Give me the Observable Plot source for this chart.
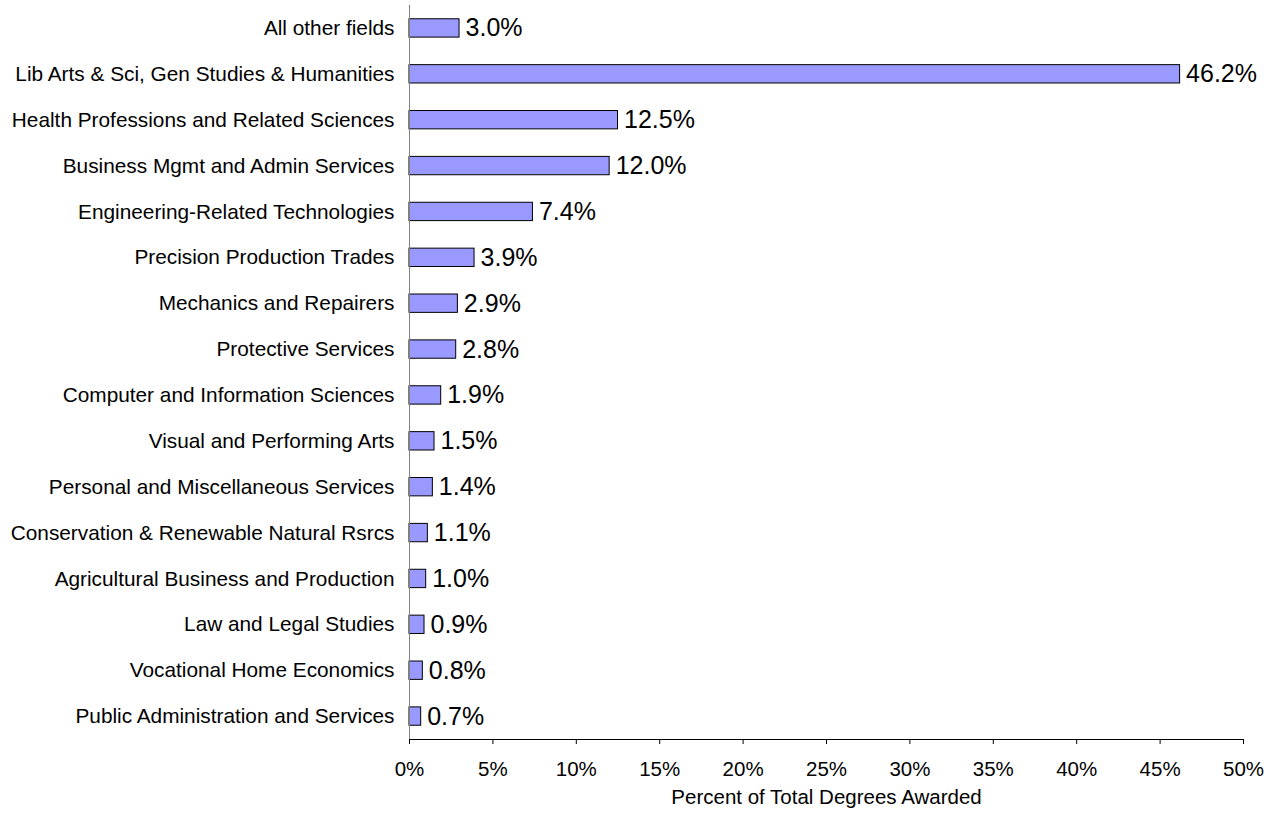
<!DOCTYPE html>
<html>
<head>
<meta charset="utf-8">
<script src="https://cdn.jsdelivr.net/npm/d3@7"></script>
<script src="https://cdn.jsdelivr.net/npm/@observablehq/plot@0.6"></script>
<style>
  html, body { margin: 0; padding: 0; background: #fff; }
  #chart svg { display: block; }
</style>
</head>
<body>
<div id="chart"></div>
<script>
const categories = [
  "All other fields",
  "Lib Arts & Sci, Gen Studies & Humanities",
  "Health Professions and Related Sciences",
  "Business Mgmt and Admin Services",
  "Engineering-Related Technologies",
  "Precision Production Trades",
  "Mechanics and Repairers",
  "Protective Services",
  "Computer and Information Sciences",
  "Visual and Performing Arts",
  "Personal and Miscellaneous Services",
  "Conservation & Renewable Natural Rsrcs",
  "Agricultural Business and Production",
  "Law and Legal Studies",
  "Vocational Home Economics",
  "Public Administration and Services"
];
const values = [3.0, 46.2, 12.5, 12.0, 7.4, 3.9, 2.9, 2.8, 1.9, 1.5, 1.4, 1.1, 1.0, 0.9, 0.8, 0.7];
const xTicks = [0, 5, 10, 15, 20, 25, 30, 35, 40, 45, 50];
const xTitle = "Percent of Total Degrees Awarded";

const data = categories.map((c, i) => ({category: c, value: values[i]}));

const chart = Plot.plot({
  width: 1273,
  height: 815,
  marginLeft: 409,
  marginRight: 30,
  marginTop: 5,
  marginBottom: 76,
  style: {fontFamily: "'Liberation Sans', Arial, sans-serif", background: "#fff", color: "#000"},
  x: {domain: [0, 50]},
  y: {domain: categories, paddingInner: 0.6, paddingOuter: 0.3, round: false},
  marks: [
    Plot.barX(data, {x: "value", y: "category", fill: "#9999ff", stroke: "#000", strokeWidth: 1}),
    Plot.text(data, {x: "value", y: "category", text: d => d.value.toFixed(1) + "%", textAnchor: "start", dx: 6, fontSize: 25, fill: "#000"}),
    Plot.axisY({tickSize: 0, tickPadding: 15, fontSize: 20.8, label: null}),
    Plot.axisX({ticks: xTicks, tickFormat: d => d + "%", tickSize: 5, tickPadding: 17, fontSize: 20.5, label: null}),
    Plot.ruleX([0], {stroke: "#808080"}),
    Plot.text([xTitle], {frameAnchor: "bottom", dy: 64, fontSize: 20.5, fill: "#000"})
  ]
});

// bottom axis line
const svg = d3.select(chart);
svg.append("line")
  .attr("x1", 409).attr("x2", 1273 - 30)
  .attr("y1", 815 - 76 + 0.5).attr("y2", 815 - 76 + 0.5)
  .attr("stroke", "#000");

document.getElementById("chart").appendChild(chart);
</script>
</body>
</html>
